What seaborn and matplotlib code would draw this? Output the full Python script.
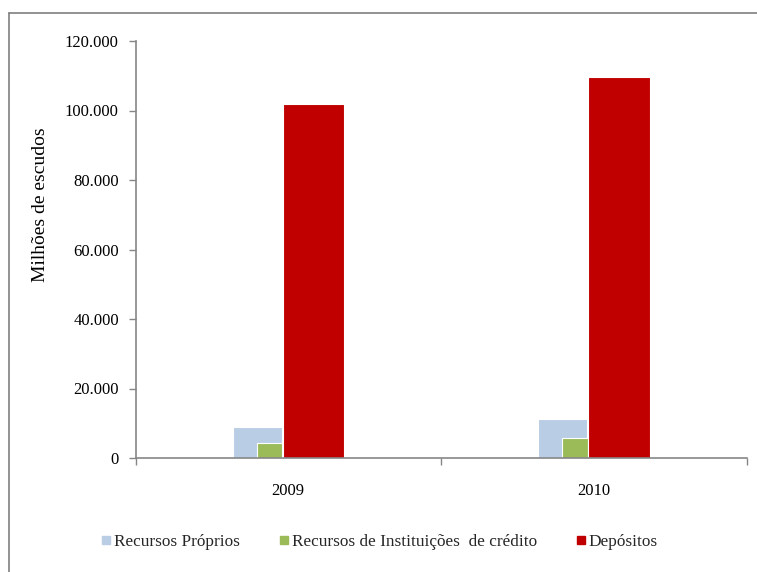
import matplotlib
matplotlib.use("Agg")
import matplotlib.pyplot as plt
from matplotlib.lines import Line2D
from matplotlib.ticker import FuncFormatter
import seaborn as sns
import numpy as np

years = ["2009", "2010"]
recursos_proprios = [9000, 11200]
recursos_instituicoes = [4400, 5700]
depositos = [102000, 109700]
series_names = ["Recursos Próprios", "Recursos de Instituições  de crédito", "Depósitos"]
colors = ["#b9cde5", "#9bbb59", "#c00000"]
yticks = [0, 20000, 40000, 60000, 80000, 100000, 120000]

sns.set_theme(style="white")
plt.rcParams["font.family"] = ["Liberation Serif", "DejaVu Serif"]

W, H = 757, 572
fig = plt.figure(figsize=(W / 100, H / 100), dpi=100)
ax = fig.add_axes([135.5 / W, 1 - 458 / H, (746.5 - 135.5) / W, (458 - 41) / H])

# (left offset, width) within category, in category units
layout = [(-0.182, 0.161), (-0.103, 0.083), (-0.018, 0.202)]
series = [recursos_proprios, recursos_instituicoes, depositos]

for vals, col, (off, w) in zip(series, colors, layout):
    n_before = len(ax.patches)
    sns.barplot(x=years, y=vals, color=col, width=w, ax=ax, errorbar=None,
                saturation=1, edgecolor="white", linewidth=0.8, zorder=2)
    for p in ax.patches[n_before:]:
        p.set_x(p.get_x() + p.get_width() / 2 + off)

ax.set_xlim(-0.5, 1.5)
ax.set_ylim(0, 120000)
ax.set_yticks(yticks)
ax.yaxis.set_major_formatter(FuncFormatter(lambda v, p: "0" if v == 0 else f"{int(v):,}".replace(",", ".")))
ax.set_xticks([0, 1])
ax.set_xticklabels(years)
ax.set_xticks([-0.5, 0.5, 1.5], minor=True)

for s in ["top", "right"]:
    ax.spines[s].set_visible(False)
for s in ["left", "bottom"]:
    ax.spines[s].set_color("#868686")
    ax.spines[s].set_linewidth(1.2)

ax.tick_params(axis="y", which="major", left=True, length=5, width=1, color="#868686",
               labelsize=12, labelcolor="black", pad=7)
ax.tick_params(axis="x", which="major", bottom=False, labelsize=12, labelcolor="black", pad=12)
ax.tick_params(axis="x", which="minor", bottom=True, length=5, width=1, color="#868686")
ax.set_xlabel("")
ax.set_ylabel("")

fig.text(41 / W, 1 - 205 / H, "Milhões de escudos", rotation=90, ha="center", va="center",
         fontsize=14, color="black")

handles = [Line2D([0], [0], marker="s", linestyle="none", markersize=6,
                  markerfacecolor=c, markeredgecolor=c) for c in colors]
fig.legend(handles, series_names, loc="center", bbox_to_anchor=(379 / W, 1 - 542 / H),
           ncol=3, frameon=False, fontsize=12.4, handletextpad=0.1, columnspacing=2.2,
           handlelength=0.7)

# figure border (left and top visible)
fig.add_artist(Line2D([8.5 / W, 8.5 / W], [0, 1 - 12.5 / H], color="#7f7f7f", linewidth=1.2,
                      transform=fig.transFigure))
fig.add_artist(Line2D([8.5 / W, 1], [1 - 12.5 / H, 1 - 12.5 / H], color="#7f7f7f", linewidth=1.2,
                      transform=fig.transFigure))

fig.savefig("out.png", dpi=100)
